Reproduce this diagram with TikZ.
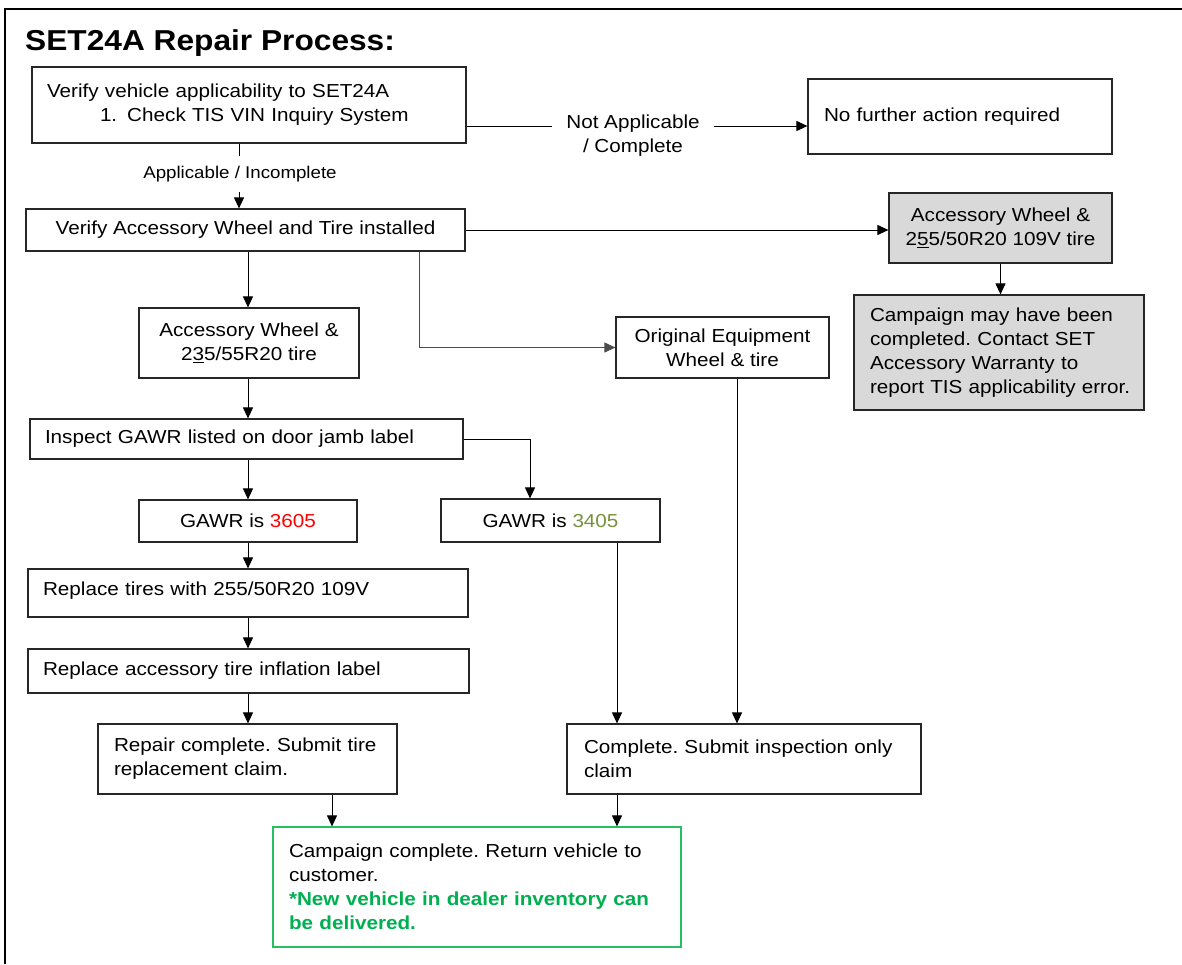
\documentclass[tikz,border=0pt]{standalone}
\usepackage{fontspec}
\setmainfont{Liberation Sans}[FakeStretch=1.1]
\usetikzlibrary{arrows.meta,positioning,calc}
\definecolor{gawrred}{RGB}{255,0,0}
\definecolor{gawrolive}{RGB}{118,146,60}
\definecolor{okgreen}{RGB}{0,176,80}
\definecolor{boxgreen}{RGB}{40,190,100}
\definecolor{boxgray}{RGB}{217,217,217}
\frenchspacing
\begin{document}
\begin{tikzpicture}[x=1pt,y=-1pt,
  bx/.style={draw=black!85, line width=1.2pt, inner sep=0pt, align=center,
    font=\fontsize{18.8}{24}\selectfont},
  lbx/.style={bx, align=left},
  arr/.style={-{Triangle[length=11pt,width=10pt]}, line width=1pt, black},
  ln/.style={line width=1pt, black},
  lbl/.style={font=\fontsize{18.8}{24}\selectfont, align=center},
  slbl/.style={font=\fontsize{17}{20}\selectfont, align=center}
]
\useasboundingbox (0,0) rectangle (1182,964);
% outer frame
\draw[line width=2.2pt] (5,964) -- (5,9) -- (1182,9);

% title
\node[anchor=base west, inner sep=0pt, font=\fontsize{28.8}{32}\selectfont\bfseries] (title) at (25,50) {SET24A Repair Process:};

% helper coordinates
\coordinate (r126) at (0,126);
\coordinate (c239) at (239,0);
\coordinate (c248) at (248,0);
\coordinate (c332) at (332,0);
\coordinate (c419) at (419,0);
\coordinate (c530) at (530,0);
\coordinate (c617) at (617,0);
\coordinate (c737) at (737,0);

% boxes
\node[lbx, inner xsep=15pt, text width=404pt, minimum height=76pt] (B1) at (249,105)
  {Verify vehicle applicability to SET24A\\\hspace*{53pt}1.\hspace{10pt}Check TIS VIN Inquiry System};
\node[lbx, inner xsep=16pt, text width=272pt, minimum height=75pt] (B2) at (960,116.5)
  {No further action required};
\node[bx, minimum width=439pt, minimum height=42pt] (B3) at (245.5,230)
  {Verify Accessory Wheel and Tire installed};
\node[bx, fill=boxgray, minimum width=223pt, minimum height=70pt] (B4) at (1000.5,228)
  {Accessory Wheel \&\\2\underline{5}5/50R20 109V tire};
\node[lbx, fill=boxgray, inner xsep=16pt, text width=258pt, minimum height=115pt] (B5) at (999,352.5)
  {Campaign may have been\\completed. Contact SET\\Accessory Warranty to\\\mbox{report TIS applicability error.}};
\node[bx, minimum width=220pt, minimum height=70pt] (B6) at (249,343)
  {Accessory Wheel \&\\2\underline{3}5/55R20 tire};
\node[bx, minimum width=213pt, minimum height=61pt] (B7) at (722.5,347.5)
  {Original Equipment\\Wheel \& tire};
\node[lbx, inner xsep=15pt, text width=403pt, minimum height=40pt] (B8) at (246.5,439)
  {Inspect GAWR listed on door jamb label};
\node[bx, minimum width=218pt, minimum height=42pt] (B9) at (248,521)
  {GAWR is \textcolor{gawrred}{3605}};
\node[bx, minimum width=219pt, minimum height=43pt] (B10) at (550.5,520.5)
  {GAWR is \textcolor{gawrolive}{3405}};
\node[lbx, inner xsep=15pt, text width=410pt, minimum height=48pt] (B11) at (248,593)
  {Replace tires with 255/50R20 109V\\[-16pt]\mbox{}};
\node[lbx, inner xsep=15pt, text width=411pt, minimum height=44pt] (B12) at (248.5,671)
  {Replace accessory tire inflation label};
\node[lbx, inner xsep=16pt, text width=267pt, minimum height=70pt] (B13) at (247.5,759)
  {Repair complete. Submit tire\\replacement claim.};
\node[lbx, inner xsep=17pt, text width=320pt, minimum height=70pt] (B14) at (744,759)
  {Complete. Submit inspection only\\claim};
\node[lbx, draw=boxgreen, inner xsep=16pt, text width=376pt, minimum height=120pt] (B15) at (477,887)
  {Campaign complete. Return vehicle to\\customer.\\\textcolor{okgreen}{\bfseries *New vehicle in dealer inventory can}\\\textcolor{okgreen}{\bfseries be delivered.}};

% labels
\node[lbl, inner xsep=14pt, inner ysep=0pt] (lblN) at (633,136) {Not Applicable\\/ Complete};
\node[slbl, inner xsep=2pt, inner ysep=10pt] (lblA) at (240,174) {Applicable / Incomplete};

% connectors
\draw[ln] (B1.east |- r126) -- (r126 -| lblN.west);
\draw[arr] (r126 -| lblN.east) -- (r126 -| B2.west);
\draw[ln] (B1.south -| c239) -- (lblA.north -| c239);
\draw[arr] (lblA.south -| c239) -- (B3.north -| c239);
\draw[arr] (B3.east) -- (B3.east -| B4.west);
\draw[arr] (B4.south) -- (B4.south |- B5.north);
\draw[arr] (B3.south -| c248) -- (B6.north -| c248);
\draw[arr, draw=black!70] (B3.south -| c419) |- (B7.west);
\draw[arr] (B6.south -| c248) -- (B8.north -| c248);
\draw[arr] (B8.south -| c248) -- (B9.north -| c248);
\draw[arr] (B8.east) -| (B10.north -| c530);
\draw[arr] (B9.south -| c248) -- (B11.north -| c248);
\draw[arr] (B11.south -| c248) -- (B12.north -| c248);
\draw[arr] (B12.south -| c248) -- (B13.north -| c248);
\draw[arr] (B10.south -| c617) -- (B14.north -| c617);
\draw[arr] (B7.south -| c737) -- (B14.north -| c737);
\draw[arr] (B13.south -| c332) -- (B15.north -| c332);
\draw[arr] (B14.south -| c617) -- (B15.north -| c617);
\end{tikzpicture}
\end{document}
